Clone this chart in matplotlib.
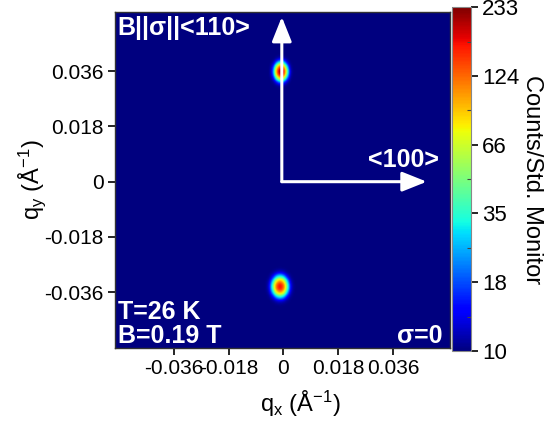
import numpy as np
import matplotlib.pyplot as plt
from matplotlib.colors import LogNorm
from matplotlib.ticker import NullFormatter

plt.rcParams['font.family'] = ['Liberation Sans', 'DejaVu Sans']
plt.rcParams['mathtext.default'] = 'regular'

# Map extent (1/Angstrom)
qx_lim = [-0.0553, 0.0547]
qy_lim = [-0.0542, 0.0554]

# Bragg spots: centre, peak counts, widths
peak_qx = [-0.0008, -0.0011]
peak_qy = [0.0358, -0.0343]
peak_counts = [215.0, 165.0]
peak_wx = [0.00110, 0.00135]
peak_wy = [0.00150, 0.00172]
background = 10.0

# Axis ticks
q_ticks = [-0.036, -0.018, 0.0, 0.018, 0.036]
q_ticklabels = ['-0.036', '-0.018', '0', '0.018', '0.036']
cbar_min, cbar_max = 10, 233
cbar_ticklabels = ['10', '18', '35', '66', '124', '233']

# Build the intensity map on a fine grid
qx = np.linspace(qx_lim[0], qx_lim[1], 400)
qy = np.linspace(qy_lim[0], qy_lim[1], 400)
QX, QY = np.meshgrid(qx, qy)
I = np.full_like(QX, background)
for x0, y0, a, wx, wy in zip(peak_qx, peak_qy, peak_counts, peak_wx, peak_wy):
    I += (a - background) * np.exp(-(QX - x0)**2 / (2 * wx**2) - (QY - y0)**2 / (2 * wy**2))

fig = plt.figure(figsize=(5.5, 4.21), dpi=100)
ax = fig.add_axes([0.209, 0.1734, 0.609, 0.7988])
cax = fig.add_axes([0.822, 0.1663, 0.0345, 0.8167])

norm = LogNorm(vmin=cbar_min, vmax=cbar_max)
im = ax.imshow(I, origin='lower', cmap='jet', norm=norm, interpolation='bilinear',
               extent=[qx_lim[0], qx_lim[1], qy_lim[0], qy_lim[1]], aspect='auto')
ax.set_xlim(qx_lim)
ax.set_ylim(qy_lim)

ax.set_xticks(q_ticks)
ax.set_xticklabels(q_ticklabels)
ax.set_yticks(q_ticks)
ax.set_yticklabels(q_ticklabels)
ax.tick_params(direction='out', length=5, width=1.2, labelsize=15, pad=3)
for s in ax.spines.values():
    s.set_linewidth(1.0)
    s.set_color('#333333')

ax.set_xlabel('q$_x$ ($\\AA^{-1}$)', fontsize=17)
ax.set_ylabel('q$_y$ ($\\AA^{-1}$)', fontsize=17)
ax.xaxis.set_label_coords(0.555, -0.12)
ax.yaxis.set_label_coords(-0.20, 0.5)

# Lattice direction arrows
arrow_kw = dict(arrowstyle='-|>,head_length=0.75,head_width=0.3', color='white',
                lw=2.2, mutation_scale=20, shrinkA=0, shrinkB=0)
ax.annotate('', xy=(-0.0005, 0.0537), xytext=(-0.0005, 0.0), arrowprops=arrow_kw)
ax.annotate('', xy=(0.0471, 0.0), xytext=(-0.0005, 0.0), arrowprops=arrow_kw)

txt = dict(color='white', fontweight='bold', fontsize=18)
ax.text(0.008, 0.932, 'B||σ||<110>', transform=ax.transAxes, ha='left', va='baseline', **txt)
ax.text(0.755, 0.539, '<100>', transform=ax.transAxes, ha='left', va='baseline', **txt)
ax.text(0.008, 0.086, 'T=26 K', transform=ax.transAxes, ha='left', va='baseline', **txt)
ax.text(0.008, 0.015, 'B=0.19 T', transform=ax.transAxes, ha='left', va='baseline', **txt)
ax.text(0.979, 0.015, 'σ=0', transform=ax.transAxes, ha='right', va='baseline', **txt)

# Colour bar with log ticks
cb = fig.colorbar(im, cax=cax)
ticks = np.geomspace(cbar_min, cbar_max, len(cbar_ticklabels))
cb.set_ticks(ticks)
cb.set_ticklabels(cbar_ticklabels)
cax.set_yticks(np.sqrt(ticks[:-1] * ticks[1:]), minor=True)
cax.yaxis.set_minor_formatter(NullFormatter())
cax.tick_params(which='major', direction='out', length=5, width=1.2, labelsize=16, pad=3)
cax.tick_params(which='minor', direction='in', length=3, width=0.8, color='#444444')
cb.outline.set_edgecolor('#888888')
cb.set_label('Counts/Std. Monitor', rotation=270, fontsize=17, labelpad=17)

plt.savefig('out.png', dpi=100)
